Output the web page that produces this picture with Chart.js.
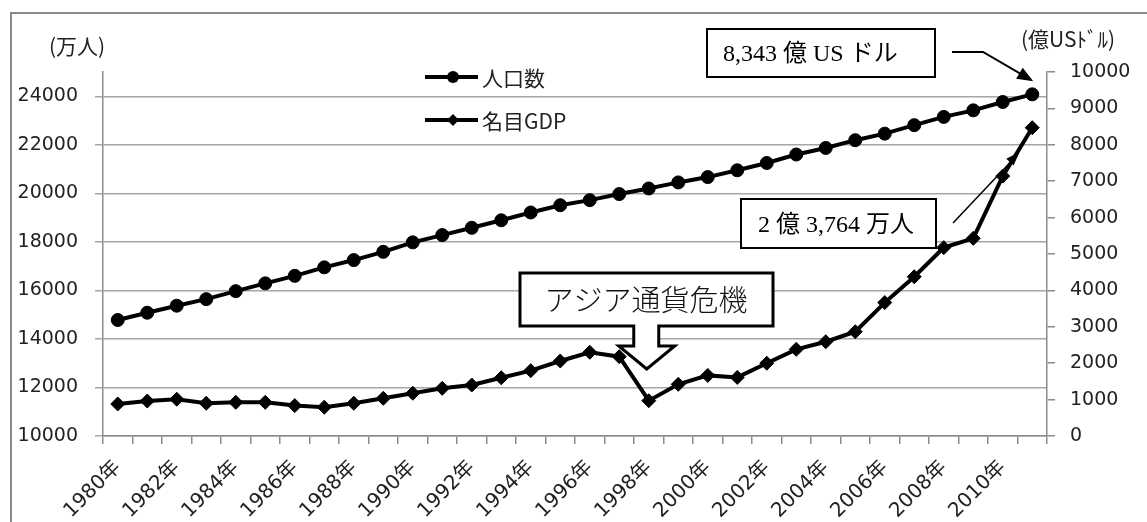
<!DOCTYPE html>
<html>
<head>
<meta charset="utf-8">
<script src="https://cdn.jsdelivr.net/npm/chart.js@4/dist/chart.umd.min.js"></script>
<style>
  html, body { margin: 0; padding: 0; background: #fff; }
  #wrap { position: relative; width: 1147px; height: 522px; overflow: hidden; }
  #frame { position: absolute; left: 10px; top: 12px; width: 1200px; height: 600px; border: 2px solid #8a8a8a; }
  #box { position: absolute; left: 0; top: 0; width: 1147px; height: 522px; }
</style>
</head>
<body>
<div id="wrap">
  <div id="frame"></div>
  <div id="box"><canvas id="chart"></canvas></div>
</div>
<script>
// data
const years = [1980, 1981, 1982, 1983, 1984, 1985, 1986, 1987, 1988, 1989,
  1990, 1991, 1992, 1993, 1994, 1995, 1996, 1997, 1998, 1999,
  2000, 2001, 2002, 2003, 2004, 2005, 2006, 2007, 2008, 2009, 2010, 2011];
const yearLabels = years.map(y => y + "年");
const population = [14780, 15080, 15370, 15640, 15970, 16290, 16600, 16950, 17250, 17590,
  17980, 18280, 18580, 18890, 19210, 19510, 19720, 19970, 20200, 20450,
  20670, 20950, 21250, 21600, 21870, 22190, 22460, 22810, 23150, 23420, 23764, 24080];
const gdp = [880, 960, 1010, 900, 925, 925, 835, 790, 900, 1035,
  1175, 1310, 1400, 1600, 1795, 2060, 2300, 2180, 970, 1420,
  1665, 1610, 2000, 2380, 2590, 2865, 3665, 4375, 5175, 5430, 7140, 8470];
const leftTicks = [10000, 12000, 14000, 16000, 18000, 20000, 22000, 24000];
const rightTicks = [0, 1000, 2000, 3000, 4000, 5000, 6000, 7000, 8000, 9000, 10000];
const seriesNames = ["人口数", "名目GDP"];
const axisTitles = ["(万人)", "(億USﾄﾞﾙ)"];
const crisisText = "アジア通貨危機";
const gdpNote = "8,343 億 US ドル";
const popNote = "2 億 3,764 万人";

const tickFont = { family: "'DejaVu Sans', sans-serif", size: 19 };
const cjk = "'Noto Sans CJK JP', 'DejaVu Sans', sans-serif";
const serif = "'Liberation Serif', 'Noto Sans CJK JP', serif";

function arrowHead(ctx, fx, fy, tx, ty, len, wid) {
  const a = Math.atan2(ty - fy, tx - fx);
  ctx.beginPath();
  ctx.moveTo(tx, ty);
  ctx.lineTo(tx - len * Math.cos(a) + wid / 2 * Math.sin(a), ty - len * Math.sin(a) - wid / 2 * Math.cos(a));
  ctx.lineTo(tx - len * Math.cos(a) - wid / 2 * Math.sin(a), ty - len * Math.sin(a) + wid / 2 * Math.cos(a));
  ctx.closePath();
  ctx.fill();
}

// legend, axis titles and callouts
const notes = {
  id: "notes",
  afterDraw(chart) {
    const { ctx } = chart;
    const { x, y, y1 } = chart.scales;
    ctx.save();
    ctx.fillStyle = "#000";
    ctx.strokeStyle = "#000";

    // axis titles
    ctx.font = "21px " + cjk;
    ctx.textBaseline = "middle";
    ctx.textAlign = "left";
    ctx.fillStyle = "#222";
    ctx.fillText(axisTitles[0], 49, 46);
    ctx.font = "21px " + cjk;
    ctx.fillText(axisTitles[1], 1021, 39);

    // legend
    const legY = [77, 120];
    legY.forEach((ly, i) => {
      ctx.fillStyle = "#000";
      ctx.lineWidth = 4;
      ctx.beginPath();
      ctx.moveTo(425, ly);
      ctx.lineTo(478, ly);
      ctx.stroke();
      ctx.beginPath();
      if (i === 0) {
        ctx.arc(453, ly, 6, 0, Math.PI * 2);
      } else {
        ctx.moveTo(447, ly); ctx.lineTo(453, ly - 6); ctx.lineTo(459, ly); ctx.lineTo(453, ly + 6);
        ctx.closePath();
      }
      ctx.fill();
      ctx.font = "21px " + cjk;
      ctx.fillStyle = "#222";
      ctx.fillText(seriesNames[i], 482, ly + 1);
    });

    // アジア通貨危機 callout
    const cx = x.getPixelForValue(18) - 2;
    ctx.lineWidth = 3;
    ctx.fillStyle = "#fff";
    ctx.beginPath();
    ctx.moveTo(520, 273);
    ctx.lineTo(773, 273);
    ctx.lineTo(773, 326);
    ctx.lineTo(cx + 12, 326);
    ctx.lineTo(cx + 12, 346);
    ctx.lineTo(cx + 28, 346);
    ctx.lineTo(cx, 369);
    ctx.lineTo(cx - 28, 346);
    ctx.lineTo(cx - 13, 346);
    ctx.lineTo(cx - 13, 326);
    ctx.lineTo(520, 326);
    ctx.closePath();
    ctx.fill();
    ctx.stroke();
    ctx.fillStyle = "#111";
    ctx.font = "300 29px " + cjk;
    ctx.textAlign = "center";
    ctx.fillText(crisisText, 646, 300);

    // GDP note box + arrow
    ctx.lineWidth = 2;
    ctx.fillStyle = "#fff";
    ctx.fillRect(707, 29, 228, 48);
    ctx.strokeRect(707, 29, 228, 48);
    ctx.fillStyle = "#000";
    ctx.font = "24px " + serif;
    ctx.textAlign = "left";
    ctx.fillText(gdpNote, 723, 55);
    const t1x = x.getPixelForValue(31) + 1;
    const t1y = y.getPixelForValue(population[31]) - 13;
    ctx.lineWidth = 2;
    ctx.beginPath();
    ctx.moveTo(952, 52);
    ctx.lineTo(983, 52);
    ctx.lineTo(t1x - 10, t1y - 6);
    ctx.stroke();
    arrowHead(ctx, 983, 52, t1x, t1y, 16, 13);

    // population note box + arrow
    ctx.fillStyle = "#fff";
    ctx.fillRect(741, 199, 195, 49);
    ctx.strokeRect(741, 199, 195, 49);
    ctx.fillStyle = "#000";
    ctx.fillText(popNote, 758, 226);
    const t2x = (x.getPixelForValue(30) + x.getPixelForValue(31)) / 2 + 2;
    const t2y = (y1.getPixelForValue(gdp[30]) + y1.getPixelForValue(gdp[31])) / 2;
    ctx.lineWidth = 1.5;
    ctx.beginPath();
    ctx.moveTo(953, 223);
    ctx.lineTo(t2x - 7, t2y + 8);
    ctx.stroke();
    arrowHead(ctx, 953, 223, t2x, t2y, 14, 10);

    ctx.restore();
  }
};

const ctx = document.getElementById("chart").getContext("2d");
const chart = new Chart(ctx, {
  type: "line",
  data: {
    labels: yearLabels,
    datasets: [{
      label: seriesNames[0],
      data: population,
      yAxisID: "y",
      borderColor: "#000",
      backgroundColor: "#000",
      borderWidth: 4,
      pointStyle: "circle",
      pointRadius: 6.5,
      pointBorderWidth: 1,
      tension: 0
    }, {
      label: seriesNames[1],
      data: gdp,
      yAxisID: "y1",
      borderColor: "#000",
      backgroundColor: "#000",
      borderWidth: 4,
      pointStyle: "rectRot",
      pointRadius: 7,
      pointBorderWidth: 1,
      tension: 0
    }]
  },
  options: {
    responsive: true,
    maintainAspectRatio: false,
    animation: false,
    layout: { padding: { top: 72, left: 0, right: 0, bottom: 0 } },
    plugins: { legend: { display: false }, tooltip: { enabled: false } },
    scales: {
      x: {
        offset: true,
        afterFit: s => { s.height = 86; },
        grid: { offset: true, drawOnChartArea: false, tickLength: 8, color: "#8c8c8c", lineWidth: 1.5 },
        border: { color: "#8c8c8c", width: 1.5 },
        ticks: {
          autoSkip: false, maxRotation: 45, minRotation: 45, padding: 12, labelOffset: 0,
          color: "#222", font: { family: "'DejaVu Sans', 'Noto Sans CJK JP', sans-serif", size: 20 },
          callback: (v, i) => (i % 2 === 0 ? yearLabels[i] : "")
        }
      },
      y: {
        position: "left",
        min: 10000, max: 25000,
        afterFit: s => { s.width = 103; },
        afterBuildTicks: s => { s.ticks = leftTicks.map(v => ({ value: v })); },
        grid: { color: "#a6a6a6", lineWidth: 1.5, tickLength: 8 },
        border: { color: "#8c8c8c", width: 1.5 },
        ticks: { padding: 17, color: "#222", font: tickFont, callback: v => String(v) }
      },
      y1: {
        position: "right",
        min: 0, max: 10000,
        afterFit: s => { s.width = 100; },
        afterBuildTicks: s => { s.ticks = rightTicks.map(v => ({ value: v })); },
        grid: { drawOnChartArea: false, color: "#8c8c8c", lineWidth: 1.5, tickLength: 8 },
        border: { color: "#8c8c8c", width: 1.5 },
        ticks: { padding: 15, color: "#222", font: tickFont, callback: v => String(v) }
      }
    }
  },
  plugins: [notes]
});
</script>
</body>
</html>
